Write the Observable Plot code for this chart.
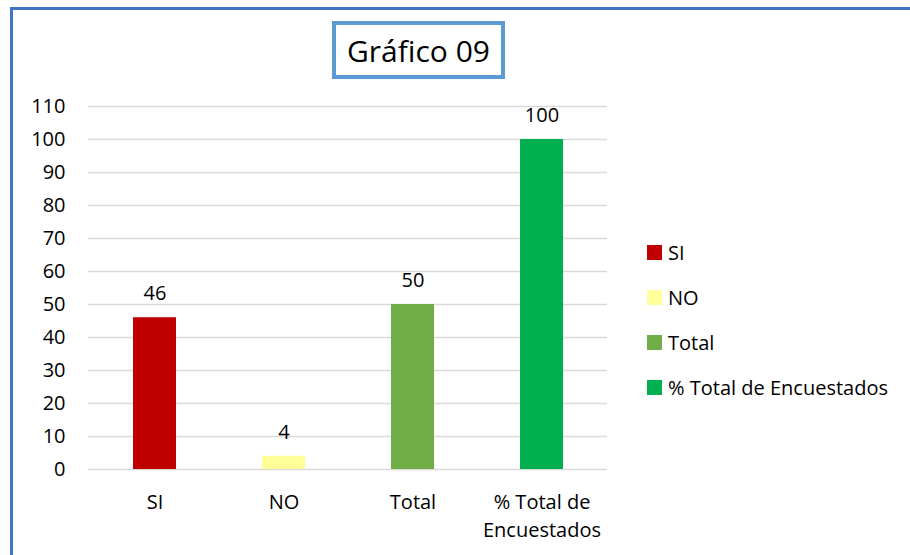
<!DOCTYPE html>
<html>
<head>
<meta charset="utf-8">
<script src="https://cdn.jsdelivr.net/npm/d3@7"></script>
<script src="https://cdn.jsdelivr.net/npm/@observablehq/plot@0.6"></script>
<style>
  html, body { margin: 0; padding: 0; background: #fff; }
  #wrap { position: relative; width: 910px; height: 555px; overflow: hidden; font-family: "Open Sans", Lato, sans-serif; }
  #frame { position: absolute; left: 10px; top: 7px; width: 920px; height: 560px; border-left: 3px solid #4472C4; border-top: 3px solid #4472C4; box-sizing: border-box; }
  #title { position: absolute; left: 332px; top: 21px; width: 173px; height: 58px; box-sizing: border-box; border: 4px solid #5B9BD5; background: #fff; font-size: 30px; display: flex; align-items: center; justify-content: center; color: #000; }
  #chart { position: absolute; left: 0; top: 0; }
  #legend { position: absolute; left: 647px; top: 240px; font-size: 20px; color: #000; }
  .li { display: flex; align-items: center; height: 24px; margin-bottom: 21px; }
  .sw { width: 15px; height: 15px; margin-right: 6px; }
</style>
</head>
<body>
<div id="wrap">
  <div id="frame"></div>
  <div id="chart"></div>
  <div id="title">Gráfico 09</div>
  <div id="legend"></div>
</div>
<script>
const categories = ["SI", "NO", "Total", "% Total de Encuestados"];
const tickLabels = ["SI", "NO", "Total", "% Total de\nEncuestados"];
const values = [46, 4, 50, 100];
const colors = ["#C00000", "#FFFF99", "#70AD47", "#00B050"];
const yTicks = [0, 10, 20, 30, 40, 50, 60, 70, 80, 90, 100, 110];

const data = categories.map((c, i) => ({category: c, value: values[i]}));

const chart = Plot.plot({
  width: 910,
  height: 555,
  marginLeft: 88,
  marginRight: 303,
  marginTop: 106,
  marginBottom: 86,
  style: {fontFamily: '"Open Sans", Lato, sans-serif', fontSize: "20px", color: "#000", background: "transparent"},
  x: {domain: categories, paddingInner: 0.67, paddingOuter: 0.335, label: null},
  y: {domain: [0, 110], label: null},
  color: {domain: categories, range: colors},
  marks: [
    Plot.gridY(yTicks, {stroke: "#D9D9D9", strokeOpacity: 1, strokeWidth: 1.5}),
    Plot.barY(data, {x: "category", y: "value", fill: "category"}),
    Plot.text(data, {x: "category", y: "value", text: d => String(d.value), dy: -24, fontSize: 20, fill: "#000", lineAnchor: "middle"}),
    Plot.axisY(yTicks, {tickSize: 0, tickPadding: 23, fontSize: 20, label: null, tickFormat: d => String(d)}),
    Plot.axisX({tickSize: 0, tickPadding: 20, fontSize: 20, label: null, lineHeight: 1.4, tickFormat: d => tickLabels[categories.indexOf(d)]})
  ]
});
document.getElementById("chart").appendChild(chart);

const legend = document.getElementById("legend");
categories.forEach((c, i) => {
  const row = document.createElement("div");
  row.className = "li";
  const sw = document.createElement("div");
  sw.className = "sw";
  sw.style.background = colors[i];
  const t = document.createElement("span");
  t.textContent = c;
  row.appendChild(sw);
  row.appendChild(t);
  legend.appendChild(row);
});
</script>
</body>
</html>
